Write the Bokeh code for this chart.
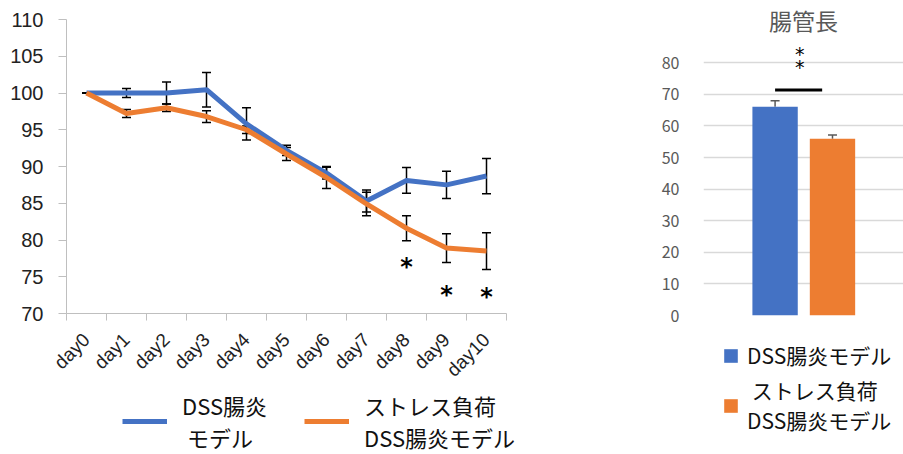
import numpy as np
from bokeh.plotting import figure
from bokeh.models import (ColumnDataSource, Whisker, TeeHead, FixedTicker, Legend,
                          LegendItem, Range1d)
from bokeh.layouts import row, column
from bokeh.embed import file_html
from bokeh.resources import INLINE
from bokeh.core.properties import value

# ---------------- data ----------------
days = ["day0", "day1", "day2", "day3", "day4", "day5", "day6", "day7", "day8", "day9", "day10"]
dss_mean = [100.0, 100.0, 100.0, 100.45, 95.8, 92.2, 89.1, 85.3, 88.1, 87.5, 88.7]
dss_err = [0.0, 0.6, 1.5, 2.35, 2.2, 0.7, 0.8, 1.5, 1.75, 1.85, 2.4]
stress_mean = [100.0, 97.2, 98.0, 96.8, 95.0, 91.7, 88.5, 84.9, 81.6, 78.9, 78.5]
stress_err = [0.0, 0.55, 0.5, 0.8, 0.5, 0.9, 1.5, 1.6, 1.7, 1.95, 2.5]
sig_days = [8, 9, 10]
sig_star_y = [76.3, 72.5, 72.2]

series_labels = ["DSS腸炎\n モデル", "ストレス負荷\nDSS腸炎モデル"]
bar_labels = ["DSS腸炎モデル", " ストレス負荷\nDSS腸炎モデル"]
bar_title = "腸管長"
bar_mean = [66.1, 55.9]
bar_err = [1.9, 1.2]
bar_sig_y = 71.4
bar_star_y = [82.9, 78.7]

BLUE = "#4472C4"
ORANGE = "#ED7D31"
JP = "Noto Sans CJK JP"
NAN = float("nan")


def legend_canvas(w, h):
    f = figure(width=w, height=h, output_backend="svg", toolbar_location=None,
               x_range=Range1d(0, 1), y_range=Range1d(0, 1),
               x_axis_location=None, y_axis_location=None,
               min_border=0)
    f.title.visible = False
    f.outline_line_color = None
    f.xgrid.visible = False
    f.ygrid.visible = False
    return f


# ---------------- left: line chart ----------------
x = np.arange(len(days))
p = figure(width=650, height=392, output_backend="svg", toolbar_location=None,
           x_range=Range1d(-0.5, len(days) - 0.5), y_range=Range1d(70, 110),
           min_border_left=66, min_border_right=144, min_border_top=19,
           min_border_bottom=79)
p.title.visible = False
p.outline_line_color = None
p.xgrid.visible = False
p.ygrid.visible = False

src_b = ColumnDataSource(dict(x=x, y=dss_mean,
                              up=np.array(dss_mean) + np.array(dss_err),
                              lo=np.array(dss_mean) - np.array(dss_err)))
src_o = ColumnDataSource(dict(x=x, y=stress_mean,
                              up=np.array(stress_mean) + np.array(stress_err),
                              lo=np.array(stress_mean) - np.array(stress_err)))

for s in (src_b, src_o):
    w = Whisker(base="x", upper="up", lower="lo", source=s, line_color="black",
                line_width=1.5, level="underlay",
                upper_head=TeeHead(size=9, line_color="black", line_width=1.5),
                lower_head=TeeHead(size=9, line_color="black", line_width=1.5))
    p.add_layout(w)

p.line("x", "y", source=src_b, line_color=BLUE, line_width=5)
p.line("x", "y", source=src_o, line_color=ORANGE, line_width=5)

p.text(x=sig_days, y=sig_star_y, text=["*"] * len(sig_days), text_align="center",
       text_baseline="middle", text_font=value("DejaVu Sans"), text_font_size="24px",
       text_font_style="bold", text_color="black")

p.yaxis.ticker = FixedTicker(ticks=list(range(70, 111, 5)))
p.yaxis.axis_line_color = "#bfbfbf"
p.yaxis.major_tick_line_color = "#bfbfbf"
p.yaxis.major_tick_out = 8
p.yaxis.major_tick_in = 0
p.yaxis.minor_tick_line_color = None
p.yaxis.major_label_text_font = "Liberation Sans"
p.yaxis.major_label_text_font_size = "20px"
p.yaxis.major_label_text_color = "#222222"
p.yaxis.major_label_standoff = 15

p.xaxis.ticker = FixedTicker(ticks=list(x), minor_ticks=list(np.arange(-0.5, len(days), 1.0)))
p.xaxis.major_label_overrides = {int(i): d for i, d in zip(x, days)}
p.xaxis.major_tick_line_color = None
p.xaxis.minor_tick_line_color = "#bfbfbf"
p.xaxis.minor_tick_out = 7
p.xaxis.minor_tick_in = 0
p.xaxis.axis_line_color = "#bfbfbf"
p.xaxis.major_label_orientation = np.pi / 4
p.xaxis.major_label_text_font = "Liberation Sans"
p.xaxis.major_label_text_font_size = "19px"
p.xaxis.major_label_text_color = "#222222"
p.xaxis.major_label_standoff = 16

# left legend (own canvas under the chart)
lg = legend_canvas(650, 62)
dummy = dict(x=[NAN], y=[NAN])
lb = lg.line("x", "y", source=ColumnDataSource(dummy), line_color=BLUE, line_width=5)
lo = lg.line("x", "y", source=ColumnDataSource(dummy), line_color=ORANGE, line_width=5)
leg = Legend(items=[LegendItem(label=series_labels[0], renderers=[lb]),
                    LegendItem(label=series_labels[1], renderers=[lo])],
             orientation="horizontal", location=(122, 1),
             glyph_width=45, glyph_height=20, label_standoff=15, spacing=37,
             label_text_font=JP, label_text_font_size="22px",
             label_text_line_height=1.35,
             label_text_color="#111111", border_line_color=None,
             background_fill_alpha=0, padding=0, margin=0)
lg.add_layout(leg, "center")

# ---------------- right: bar chart ----------------
bx = [0, 1]
q = figure(width=253, height=340, output_backend="svg", toolbar_location=None,
           x_range=Range1d(-1.247, 2.237), y_range=Range1d(0, 88.3),
           x_axis_location=None, title=bar_title,
           min_border_left=53, min_border_right=0, min_border_top=0,
           min_border_bottom=25)
q.outline_line_color = None
q.xgrid.visible = False
q.ygrid.grid_line_color = "#d9d9d9"
q.ygrid.grid_line_width = 1.5
q.ygrid.ticker = FixedTicker(ticks=list(range(0, 81, 10)))
q.title.align = "center"
q.title.text_font = JP
q.title.text_font_size = "23px"
q.title.text_font_style = "normal"
q.title.text_color = "#595959"
q.title.standoff = 0

bsrc = ColumnDataSource(dict(x=bx, top=bar_mean, up=np.array(bar_mean) + np.array(bar_err),
                             color=[BLUE, ORANGE]))
q.vbar(x="x", top="top", width=0.79, fill_color="color", line_color=None, source=bsrc)
q.add_layout(Whisker(base="x", upper="up", lower="top", source=bsrc, line_color="#595959",
                     line_width=1.5, level="underlay",
                     upper_head=TeeHead(size=9, line_color="#595959", line_width=1.5),
                     lower_head=None))

q.segment(x0=[bx[0]], x1=[bx[0] + 0.82], y0=[bar_sig_y], y1=[bar_sig_y],
          line_color="black", line_width=3)
q.text(x=[0.43, 0.43], y=bar_star_y, text=["*", "*"], text_align="center",
       text_baseline="middle", text_font=value("DejaVu Sans"), text_font_size="19px",
       text_color="black")

q.yaxis.ticker = FixedTicker(ticks=list(range(0, 81, 10)))
q.yaxis.axis_line_color = None
q.yaxis.major_tick_line_color = None
q.yaxis.minor_tick_line_color = None
q.yaxis.major_label_text_font = JP
q.yaxis.major_label_text_font_size = "16px"
q.yaxis.major_label_text_color = "#595959"
q.yaxis.major_label_standoff = 18

# right legend (own canvas under the chart)
rg = legend_canvas(253, 114)
qdummy = dict(l=[NAN], r=[NAN], b=[NAN], t=[NAN])
sb = rg.quad(left="l", right="r", bottom="b", top="t", source=ColumnDataSource(qdummy),
             fill_color=BLUE, line_color=None)
so = rg.quad(left="l", right="r", bottom="b", top="t", source=ColumnDataSource(qdummy),
             fill_color=ORANGE, line_color=None)
leg2 = Legend(items=[LegendItem(label=bar_labels[0], renderers=[sb]),
                     LegendItem(label=bar_labels[1], renderers=[so])],
              orientation="vertical", location=(72, 19),
              glyph_width=17, glyph_height=17, label_standoff=8, spacing=5,
              label_text_font=JP, label_text_font_size="21px",
              label_text_line_height=1.35,
              label_text_color="#111111", border_line_color=None,
              background_fill_alpha=0, padding=0, margin=0)
rg.add_layout(leg2, "center")

layout = row(column(p, row(lg)), column(q, row(rg)))
open("out.html", "w").write(file_html(layout, INLINE))
